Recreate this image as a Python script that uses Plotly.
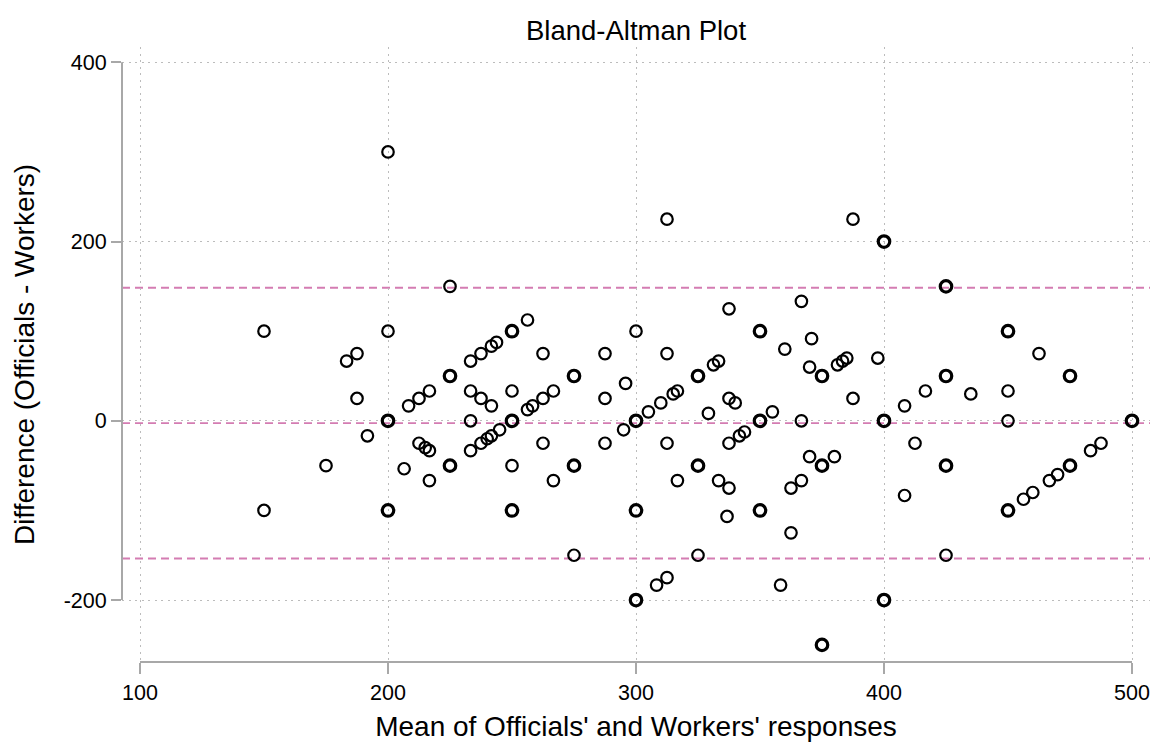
import plotly.graph_objects as go

# Bland-Altman data: mean of the two responses, their difference, and how many
# respondents share that exact (mean, difference) pair.
mean_resp = [
    150, 150, 175, 183.3, 187.5, 187.5, 191.7, 200, 200, 200, 200, 206.5,
    208.3, 212.5, 216.7, 212.5, 215, 216.7, 216.7, 225, 225, 225,
    233.3, 237.5, 241.7, 243.75, 250, 256.25, 233.3, 237.5, 241.7, 233.3,
    250, 250, 256.25, 258.3, 262.5, 266.7, 233.3, 237.5, 240, 241.7,
    245, 250, 250, 262.5, 275, 287.5, 300, 312.5, 312.5, 325,
    331.25, 333.3, 287.5, 295.8, 305, 310, 315, 316.7, 300, 295,
    329.2, 262.5, 275, 266.7, 287.5, 312.5, 325, 316.7, 333.3, 300,
    275, 325, 308.3, 312.5, 300, 387.5, 400, 337.5, 366.7, 350,
    360, 370.8, 370, 375, 381.25, 383.3, 385, 397.5, 337.5, 340,
    355, 387.5, 408.3, 350, 366.7, 400, 337.5, 341.7, 343.75, 370,
    375, 380, 337.5, 362.5, 366.7, 350, 336.7, 362.5, 408.3, 358.3,
    400, 375, 425, 450, 462.5, 425, 475, 416.7, 435, 450,
    450, 500, 412.5, 425, 450, 456.25, 460, 466.7, 470, 475,
    483.3, 487.5, 425,
]
diff_resp = [
    100, -100, -50, 66.7, 75, 25, -16.7, 300, 100, 0, -100, -53.5,
    16.7, 25, 33.3, -25, -30, -33.3, -66.7, 150, 50, -50,
    66.7, 75, 83.3, 87.5, 100, 112.5, 33.3, 25, 16.7, 0,
    33.3, 0, 12.5, 16.7, 25, 33.3, -33.3, -25, -20, -16.7,
    -10, -50, -100, 75, 50, 75, 100, 225, 75, 50,
    62.5, 66.7, 25, 41.7, 10, 20, 30, 33.3, 0, -10,
    8.3, -25, -50, -66.7, -25, -25, -50, -66.7, -66.7, -100,
    -150, -150, -183.3, -175, -200, 225, 200, 125, 133.3, 100,
    80, 91.7, 60, 50, 62.5, 66.7, 70, 70, 25, 20,
    10, 25, 16.7, 0, 0, 0, -25, -16.7, -12.5, -40,
    -50, -40, -75, -75, -66.7, -100, -106.7, -125, -83.3, -183.3,
    -200, -250, 150, 100, 75, 50, 50, 33.3, 30, 33.3,
    0, 0, -25, -50, -100, -87.5, -80, -66.7, -60, -50,
    -33.3, -25, -150,
]
n_resp = [
    1, 1, 1, 1, 1, 1, 1, 1, 1, 2, 2, 1,
    1, 1, 1, 1, 1, 1, 1, 1, 2, 2,
    1, 1, 1, 1, 2, 1, 1, 1, 1, 1,
    1, 2, 1, 1, 1, 1, 1, 1, 1, 1,
    1, 1, 2, 1, 2, 1, 1, 1, 1, 2,
    1, 1, 1, 1, 1, 1, 1, 1, 2, 1,
    1, 1, 2, 1, 1, 1, 2, 1, 1, 2,
    1, 1, 1, 1, 2, 1, 2, 1, 1, 2,
    1, 1, 1, 2, 1, 1, 1, 1, 1, 1,
    1, 1, 1, 2, 1, 2, 1, 1, 1, 1,
    2, 1, 1, 1, 1, 2, 1, 1, 1, 1,
    2, 2, 2, 2, 1, 2, 2, 1, 1, 1,
    1, 2, 1, 2, 2, 1, 1, 1, 1, 2,
    1, 1, 1,
]

# Mean difference and 95% limits of agreement
mean_diff = -2.6
loa_upper = 148.4
loa_lower = -153.6

x_ticks = [100, 200, 300, 400, 500]
y_ticks = [-200, 0, 200, 400]

FONT = "Liberation Sans, Arial, Helvetica, sans-serif"
AXIS_GREY = "#a8a8a8"
GRID_GREY = "#bcbcbc"
PINK = "#d47cb2"

fig = go.Figure()

fig.add_trace(go.Scatter(
    x=mean_resp,
    y=diff_resp,
    mode="markers",
    marker=dict(
        symbol="circle-open",
        size=11.5,
        color="black",
        line=dict(color="black", width=[2.2 if n == 1 else 3.2 for n in n_resp]),
    ),
    hoverinfo="x+y",
))

for level in (loa_upper, mean_diff, loa_lower):
    fig.add_shape(type="line", xref="paper", yref="y",
                  x0=0, x1=1, y0=level, y1=level,
                  line=dict(color=PINK, width=1.9, dash="8px,5px"),
                  layer="below")

# Axis lines only span the labelled tick range
fig.add_shape(type="line", xref="x", yref="paper",
              x0=min(x_ticks), x1=max(x_ticks), y0=0, y1=0,
              line=dict(color=AXIS_GREY, width=2), layer="above")
fig.add_shape(type="line", xref="paper", yref="y",
              x0=0, x1=0, y0=min(y_ticks), y1=max(y_ticks),
              line=dict(color=AXIS_GREY, width=2), layer="above")

fig.update_layout(
    width=1155,
    height=742,
    margin=dict(l=122, r=5, t=47, b=80),
    paper_bgcolor="white",
    plot_bgcolor="white",
    showlegend=False,
    font=dict(family=FONT, color="black"),
    title=dict(text="Bland-Altman Plot", x=0.5, xref="paper", xanchor="center",
               y=1 - 30 / 742, yref="container", yanchor="middle",
               font=dict(size=27.5, family=FONT, color="black")),
)

fig.update_xaxes(
    range=[92.74, 507.26],
    tickmode="array", tickvals=x_ticks, ticktext=[str(v) for v in x_ticks],
    ticks="outside", ticklen=11, tickwidth=2, tickcolor=AXIS_GREY,
    tickfont=dict(size=21.5, family=FONT, color="black"),
    showline=False, zeroline=False,
    showgrid=True, gridcolor=GRID_GREY, gridwidth=1, griddash="2px,4.5px",
    title=dict(text="Mean of Officials' and Workers' responses",
               font=dict(size=28, family=FONT, color="black"), standoff=12),
    automargin=False,
)
fig.update_yaxes(
    range=[-269.1, 417.1],
    tickmode="array", tickvals=y_ticks, ticktext=[str(v) for v in y_ticks],
    ticks="outside", ticklen=10, tickwidth=2, tickcolor=AXIS_GREY,
    tickfont=dict(size=21.5, family=FONT, color="black"),
    showline=False, zeroline=False,
    showgrid=True, gridcolor=GRID_GREY, gridwidth=1, griddash="2px,4.5px",
    title=dict(text="Difference (Officials - Workers)",
               font=dict(size=28, family=FONT, color="black"), standoff=20),
    automargin=False,
)

fig.write_html("out.html")
